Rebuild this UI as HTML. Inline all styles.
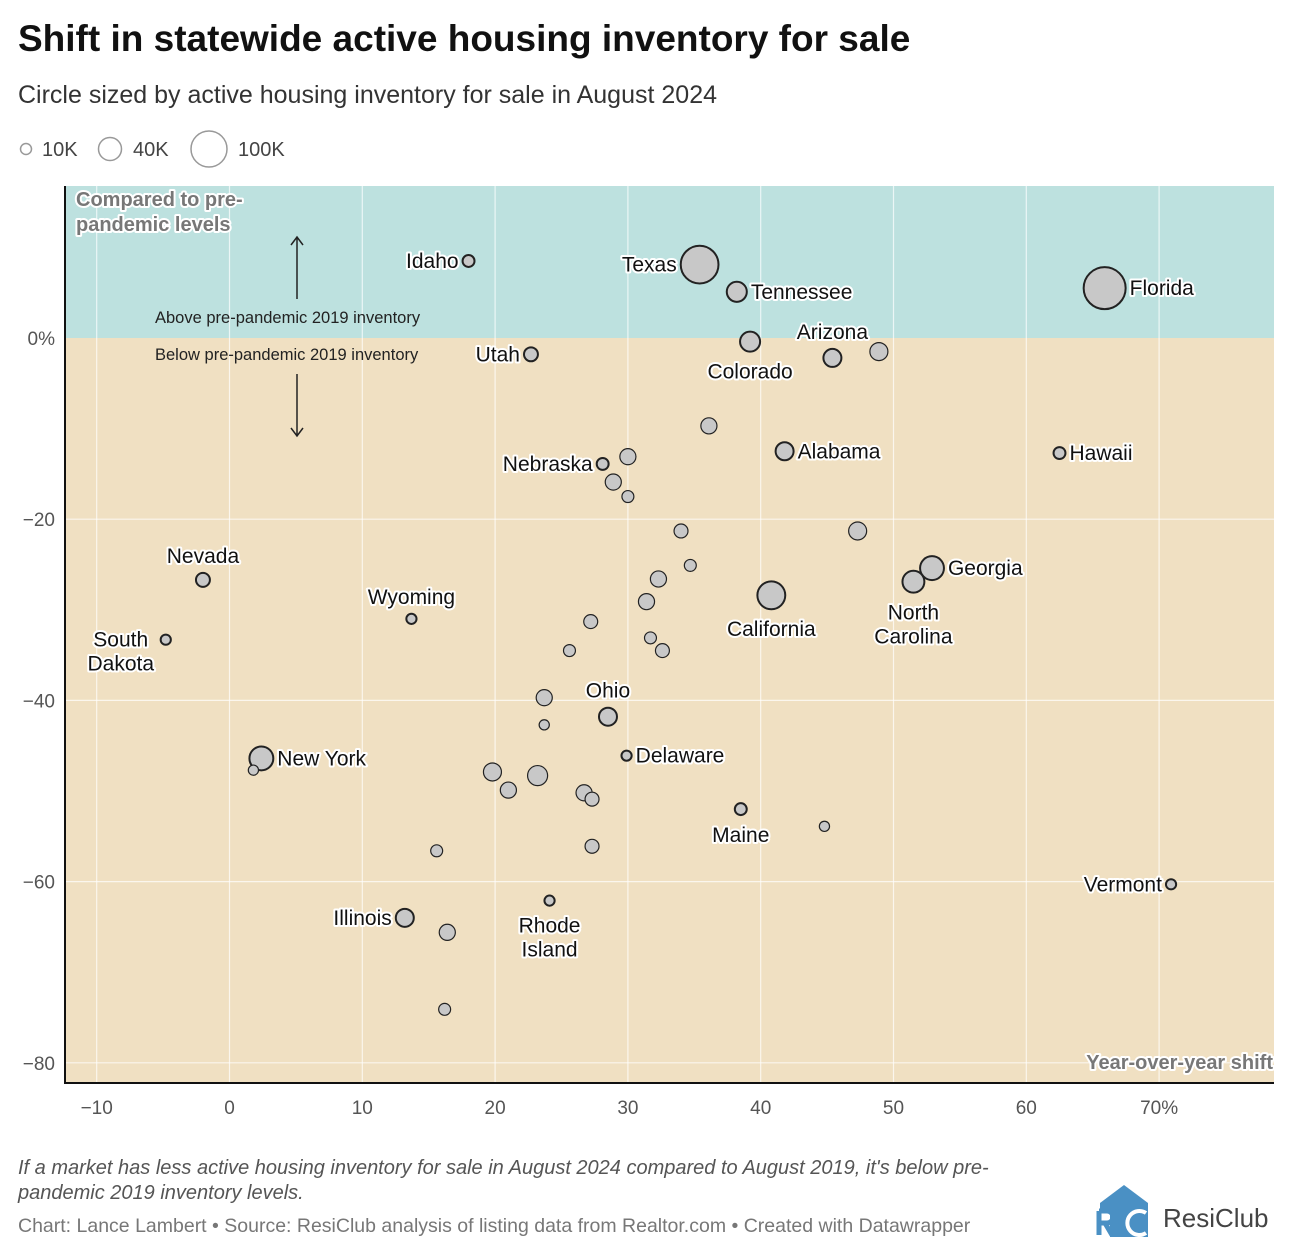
<!DOCTYPE html>
<html><head><meta charset="utf-8">
<style>
body{margin:0;background:#fff;font-family:"Liberation Sans",Roboto,sans-serif;}
#wrap{position:relative;width:1292px;height:1258px;overflow:hidden;}
.t{position:absolute;white-space:nowrap;}
svg text{font-family:"Liberation Sans",sans-serif;}
.lbl{font-size:21px;fill:#111;stroke:#fff;stroke-width:4px;paint-order:stroke;stroke-linejoin:round;}
</style></head><body>
<div id="wrap">
<div class="t" style="left:18px;top:18px;font-size:37px;font-weight:bold;color:#111;">Shift in statewide active housing inventory for sale</div>
<div class="t" style="left:18px;top:81px;font-size:25px;color:#333;">Circle sized by active housing inventory for sale in August 2024</div>
<svg class="t" style="left:0;top:128px" width="320" height="44">
 <circle cx="26" cy="21" r="5.5" fill="none" stroke="#999" stroke-width="1.5"/>
 <text x="42" y="28" font-size="20" fill="#444">10K</text>
 <circle cx="110" cy="21" r="11.5" fill="none" stroke="#999" stroke-width="1.5"/>
 <text x="133" y="28" font-size="20" fill="#444">40K</text>
 <circle cx="209" cy="21" r="18" fill="none" stroke="#999" stroke-width="1.5"/>
 <text x="238" y="28" font-size="20" fill="#444">100K</text>
</svg>
<svg id="plot" class="t" style="left:0;top:0" width="1292" height="1140"></svg>
<div class="t" style="left:18px;top:1156px;font-size:20px;font-style:italic;color:#555;line-height:25px;white-space:normal;width:1040px;">If a market has less active housing inventory for sale in August 2024 compared to August 2019, it's below pre-pandemic 2019 inventory levels.</div>
<div class="t" style="left:18px;top:1215px;font-size:19.5px;color:#777;">Chart: Lance Lambert • Source: ResiClub analysis of listing data from Realtor.com • Created with Datawrapper</div>
<svg class="t" style="left:1096px;top:1185px" width="60" height="54">
 <polygon points="28,0 52,18 52,52 4,52 4,18" fill="#4a90c4"/>
 <rect x="0" y="24" width="14" height="28" fill="#fff"/>
 <path d="M3 26 v24 M3 26 h8 a6 6 0 0 1 0 12 h-8 M9 38 l7 12" stroke="#4a90c4" stroke-width="5" fill="none"/>
 <path d="M50 28 a12 12 0 1 0 0 20" stroke="#fff" stroke-width="4" fill="none"/>
</svg>
<div class="t" style="left:1163px;top:1203px;font-size:26px;color:#444;">ResiClub</div>
</div>
<script>
const states=["Idaho","Texas","Tennessee","Florida","Utah","Colorado","Arizona","","","Alabama","Hawaii","Nebraska","","","","","","","","Georgia","North Carolina","California","Nevada","Wyoming","South Dakota","","","","","","","","Ohio","Delaware","New York","","","","","","","Maine","","","","Rhode Island","Vermont","Illinois","",""];
const yoyShift=[18.0,35.4,38.2,65.9,22.7,39.2,45.4,48.9,36.1,41.8,62.5,28.1,30.0,28.9,30.0,34.0,47.3,34.7,32.3,52.9,51.5,40.8,-2.0,13.7,-4.8,31.4,27.2,31.7,32.6,25.6,23.7,23.7,28.5,29.9,2.4,1.8,19.8,21.0,23.2,26.7,27.3,38.5,44.8,15.6,27.3,24.1,70.9,13.2,16.4,16.2];
const vsPrePandemic=[8.5,8.1,5.1,5.5,-1.8,-0.4,-2.2,-1.5,-9.7,-12.5,-12.7,-13.9,-13.1,-15.9,-17.5,-21.3,-21.3,-25.1,-26.6,-25.4,-26.9,-28.4,-26.7,-31.0,-33.3,-29.1,-31.3,-33.1,-34.5,-34.5,-39.7,-42.7,-41.8,-46.1,-46.4,-47.7,-47.9,-49.9,-48.3,-50.2,-50.9,-52.0,-53.9,-56.6,-56.1,-62.1,-60.3,-64.0,-65.6,-74.1];
const inventoryK=[11,110,31,136,15,31,25,25,20,25,11,11,20,20,11,15,25,11,20,44,37,60,15,8,8,20,15,11,15,11,20,8,25,8,44,8,25,20,31,20,15,11,8,11,15,8,8,25,20,11];
const xTicks=[-10,0,10,20,30,40,50,60,70];
const yTicks=[0,-20,-40,-60,-80];
// label placement (style, not data): side
const labelSide={"Idaho":"l","Texas":"l","Tennessee":"r","Florida":"r","Utah":"l","Colorado":"b","Arizona":"t","Alabama":"r","Hawaii":"r","Nebraska":"l","Georgia":"r","North Carolina":"b","California":"b","Nevada":"t","Wyoming":"t","South Dakota":"l2","Ohio":"t","Delaware":"r","New York":"r","Maine":"b","Rhode Island":"b","Vermont":"l","Illinois":"l"};

const X0=65,X1=1274,Y0=186,Y1=1083;
const xs=v=>229.5+v*13.28;
const ys=v=>338-v*9.06;
const rs=k=>1.8*Math.sqrt(k);
const svg=document.getElementById('plot');
const NS="http://www.w3.org/2000/svg";
function mk(t,a,p){const e=document.createElementNS(NS,t);for(const k in a)e.setAttribute(k,a[k]);(p||svg).appendChild(e);return e;}

const above=mk('rect',{x:X0,y:Y0,width:X1-X0,height:ys(0)-Y0,fill:'#bde1df'});


const below=mk('rect',{x:X0,y:ys(0),width:X1-X0,height:Y1-ys(0),fill:'#f0e0c2'});



xTicks.forEach(t=>{
 const g=mk('line',{x1:xs(t),x2:xs(t),y1:Y0,y2:Y1,stroke:'#fff','stroke-opacity':0.7,'stroke-width':1.2});
 
 
 const tx=mk('text',{x:xs(t),y:1114,'text-anchor':'middle','font-size':19,fill:'#555'});
 tx.textContent=(t<0?'\u2212'+(-t):t)+(t===70?'%':'');
 
 
});
yTicks.forEach(t=>{
 if(t!==0){const g=mk('line',{x1:X0,x2:X1,y1:ys(t),y2:ys(t),stroke:'#fff','stroke-opacity':0.7,'stroke-width':1.2});
 
 }
 const tx=mk('text',{x:55,y:ys(t)+7,'text-anchor':'end','font-size':19,fill:'#555'});
 tx.textContent=(t<0?'\u2212'+(-t):t)+(t===0?'%':'');
 
 
});
const ax=mk('path',{d:`M${X0} ${Y0} V${Y1} H${X1}`,stroke:'#111','stroke-width':2,fill:'none'});



function ann(txt,x,y,attrs,name){const e=mk('text',Object.assign({x:x,y:y},attrs));e.textContent=txt;return e;}
const annStyle={'font-size':20,'font-weight':'bold',fill:'#777',stroke:'#fff','stroke-width':4,'paint-order':'stroke','stroke-linejoin':'round'};
ann('Compared to pre-',76,206,annStyle,'region-title');
ann('pandemic levels',76,231,annStyle,'region-title');
ann('Year-over-year shift',1273,1069,Object.assign({'text-anchor':'end'},annStyle),'x-axis-title');
ann('Above pre-pandemic 2019 inventory',155,323,{'font-size':16.5,fill:'#222'},'above-annotation');
ann('Below pre-pandemic 2019 inventory',155,360,{'font-size':16.5,fill:'#222'},'below-annotation');
const ar1=mk('path',{d:'M297 299 V237 M291 245 L297 237 L303 245',stroke:'#222','stroke-width':1.5,fill:'none'});


const ar2=mk('path',{d:'M297 374 V436 M291 428 L297 436 L303 428',stroke:'#222','stroke-width':1.5,fill:'none'});



const order=yoyShift.map((_,i)=>i).sort((a,b)=>inventoryK[b]-inventoryK[a]);
order.forEach(i=>{
 const c=mk('circle',{cx:xs(yoyShift[i]),cy:ys(vsPrePandemic[i]),r:rs(inventoryK[i]),fill:'#c8c8c8',stroke:'#222','stroke-width':states[i]?2:1.2});
 
 
});
states.forEach((s,i)=>{
 if(!s)return;
 const cx=xs(yoyShift[i]),cy=ys(vsPrePandemic[i]),r=rs(inventoryK[i]);
 const side=labelSide[s]||'r';
 const words=s.split(' ');
 let lines=[s],x=cx,y=cy+7,anchor='start';
 if(side==='r'){x=cx+r+4;}
 else if(side==='l'){x=cx-r-4;anchor='end';}
 else if(side==='t'){anchor='middle';y=cy-r-10;}
 else if(side==='b'){anchor='middle';lines=words;y=cy+r+27;}
 else if(side==='l2'){anchor='middle';lines=words;x=cx-45;}
 lines.forEach((ln,k)=>{
  const t=mk('text',{x:x,y:y+k*24,'text-anchor':anchor,class:'lbl'});
  t.textContent=ln;
  
  
 });
});
</script>
</body></html>
